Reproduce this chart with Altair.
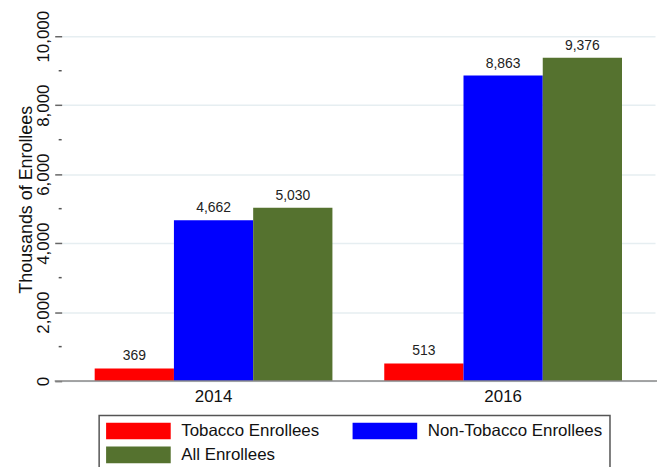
import altair as alt
import pandas as pd

years = ["2014", "2016"]
series = ["Tobacco Enrollees", "Non-Tobacco Enrollees", "All Enrollees"]
colors = ["#ff0000", "#0000ff", "#55722f"]
values_2014 = [369, 4662, 5030]
values_2016 = [513, 8863, 9376]
major_ticks = [0, 2000, 4000, 6000, 8000, 10000]
minor_ticks = [1000, 3000, 5000, 7000, 9000]

rows = []
for s, v in zip(series, values_2014):
    rows.append({"year": "2014", "series": s, "value": v})
for s, v in zip(series, values_2016):
    rows.append({"year": "2016", "series": s, "value": v})
df = pd.DataFrame(rows)

FONT = "Liberation Sans"
W, H = 597, 347

yscale = alt.Scale(domain=[0, 10000], nice=False)
xscale = alt.Scale(paddingInner=0.179, paddingOuter=0.114)

bars = alt.Chart(df).mark_bar().encode(
    x=alt.X("year:N", scale=xscale, sort=years,
            axis=alt.Axis(title=None, domain=False, ticks=False, labelAngle=0,
                          labelFontSize=17, labelFont=FONT, labelColor="#111",
                          labelPadding=8)),
    xOffset=alt.XOffset("series:N", sort=series,
                        scale=alt.Scale(paddingInner=0, paddingOuter=0)),
    y=alt.Y("value:Q", scale=yscale,
            axis=alt.Axis(title="Thousands of Enrollees", values=major_ticks,
                          format=",d", labelAngle=270, labelAlign="center",
                          labelBaseline="alphabetic", labelPadding=6,
                          labelFontSize=17, labelFont=FONT, labelColor="#111",
                          tickSize=7, tickColor="#666", tickWidth=1.5,
                          domain=False, grid=True, gridColor="#e6eef1",
                          gridWidth=1.5, titleFont=FONT, titleFontSize=18,
                          titleFontWeight="normal", titleColor="#111",
                          titleBaseline="alphabetic", titleX=-30, titleY=164)),
    color=alt.Color("series:N", sort=series,
                    scale=alt.Scale(domain=series, range=colors),
                    legend=alt.Legend(title=None, orient="none", legendX=37.7,
                                      legendY=381.7, columns=2,
                                      direction="horizontal",
                                      symbolType="M-1,-0.98L6.65,-0.98L6.65,0.98L-1,0.98Z",
                                      symbolSize=289, symbolStrokeWidth=0,
                                      symbolOpacity=1,
                                      labelFontSize=17, labelFont=FONT,
                                      labelColor="#111", labelOffset=58.6,
                                      labelLimit=400,
                                      columnPadding=33, rowPadding=6,
                                      padding=7, strokeColor="#555",
                                      fillColor="white")),
)

labels = alt.Chart(df).mark_text(dy=-8, baseline="alphabetic", fontSize=14,
                                 font=FONT, color="#222").encode(
    x=alt.X("year:N", scale=xscale, sort=years),
    xOffset=alt.XOffset("series:N", sort=series),
    y=alt.Y("value:Q", scale=yscale),
    text=alt.Text("value:Q", format=",d"),
)

minor = alt.Chart(pd.DataFrame({"v": minor_ticks})).mark_rule(
    color="#555", strokeWidth=1.5).encode(
    y=alt.Y("v:Q", scale=yscale),
    x=alt.value(-3), x2=alt.value(0),
)

base = alt.Chart(pd.DataFrame({"v": [0]})).mark_rule(
    color="#888", strokeWidth=1.5).encode(
    y=alt.Y("v:Q", scale=yscale),
    x=alt.value(-7), x2=alt.value(W + 2),
)

chart = alt.layer(bars, labels, minor, base).properties(
    width=W, height=H,
    autosize=alt.AutoSizeParams(type="none"),
    padding={"left": 54, "top": 27, "right": 2, "bottom": 85},
).configure_view(stroke=None).configure_legend(strokeWidth=1.5)

chart.save("out.html", embed_options={"renderer": "svg", "actions": False})
